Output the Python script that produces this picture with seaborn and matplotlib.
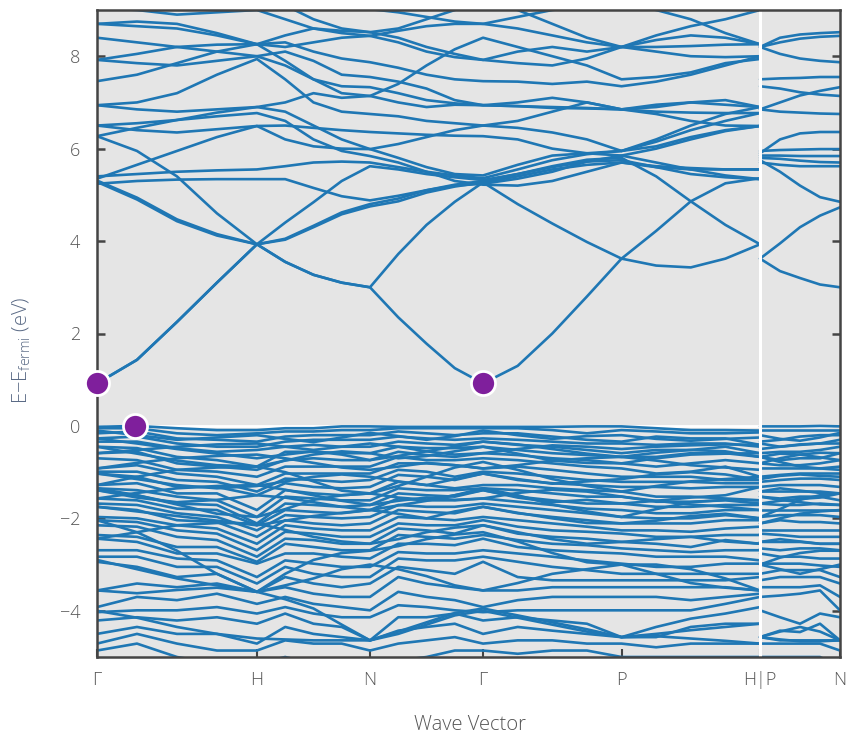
import numpy as np
import pandas as pd
import matplotlib
matplotlib.use("Agg")
import matplotlib.pyplot as plt
import seaborn as sns

# ---------------- data ----------------
# k-path distances (2pi/a) : G-H-N-G-P-H  and  P-N
k_main = [0.0, 0.25, 0.5, 0.75, 1.0,
          1.1768, 1.3536, 1.5303, 1.7071,
          1.8839, 2.0607, 2.2374, 2.4142,
          2.6307, 2.8472, 3.0637, 3.2802,
          3.4967, 3.7132, 3.9297, 4.1463]
k_pn = [4.1463, 4.2713, 4.3963, 4.5213, 4.6463]

tick_pos = [0.0, 1.0, 1.7071, 2.4142, 3.2802, 4.1463, 4.6463]
tick_labels = ["Γ", "H", "N", "Γ", "P", "H|P", "N"]

# conduction bands along G-H-N-G-P-H (eV)
cb_c1  = [0.92, 1.43, 2.25, 3.10, 3.93, 3.55, 3.27, 3.10, 3.00, 2.35, 1.78, 1.25, 0.92, 1.30, 2.00, 2.80, 3.62, 4.22, 4.86, 5.25, 5.36]
cb_c1b = [0.92, 1.43, 2.25, 3.10, 3.93, 3.55, 3.27, 3.10, 3.00, 3.72, 4.35, 4.85, 5.27, 5.40, 5.55, 5.65, 5.70, 5.62, 5.58, 5.55, 5.55]
cb_a   = [5.28, 4.90, 4.43, 4.12, 3.93, 4.03, 4.30, 4.58, 4.75, 4.86, 5.05, 5.18, 5.27, 4.80, 4.38, 3.98, 3.62, 3.47, 3.43, 3.62, 3.93]
cb_b   = [5.31, 4.94, 4.47, 4.15, 3.93, 4.05, 4.33, 4.62, 4.80, 4.92, 5.10, 5.22, 5.30, 5.45, 5.60, 5.72, 5.75, 5.60, 5.45, 5.38, 5.34]
cb_s   = [6.27, 5.95, 5.40, 4.60, 3.93, 4.40, 4.84, 5.30, 5.62, 5.55, 5.45, 5.38, 5.32, 5.45, 5.62, 5.76, 5.80, 5.40, 4.86, 4.35, 3.93]
cb_f2  = [5.24, 5.30, 5.33, 5.34, 5.34, 5.34, 5.15, 4.97, 4.88, 4.98, 5.10, 5.20, 5.24, 5.35, 5.50, 5.72, 5.85, 6.00, 6.20, 6.38, 6.49]
cb_f1  = [5.40, 5.45, 5.50, 5.53, 5.55, 5.62, 5.70, 5.72, 5.70, 5.60, 5.50, 5.42, 5.36, 5.55, 5.75, 5.88, 5.95, 6.15, 6.40, 6.60, 6.77]
cb_u1  = [6.27, 6.45, 6.62, 6.78, 6.90, 6.80, 6.50, 6.20, 5.99, 5.80, 5.60, 5.45, 5.42, 5.65, 5.85, 5.90, 5.95, 6.20, 6.50, 6.75, 6.90]
cb_u2  = [6.50, 6.55, 6.62, 6.70, 6.77, 6.60, 6.20, 5.95, 5.84, 5.70, 5.50, 5.30, 5.22, 5.20, 5.30, 5.50, 5.70, 5.60, 5.55, 5.55, 5.55]
cb_r   = [5.35, 5.65, 5.95, 6.25, 6.49, 6.50, 6.45, 6.40, 6.36, 6.33, 6.30, 6.28, 6.27, 6.20, 6.00, 5.90, 5.85, 5.70, 5.55, 5.42, 5.34]
cb_u3  = [6.94, 7.00, 7.20, 7.60, 7.94, 7.50, 7.00, 6.80, 6.75, 6.70, 6.60, 6.55, 6.50, 6.60, 6.80, 7.00, 6.85, 6.95, 7.00, 6.95, 6.90]
cb_u4  = [7.46, 7.60, 7.85, 8.10, 8.26, 7.90, 7.50, 7.20, 7.14, 7.40, 7.80, 8.15, 8.40, 8.20, 8.00, 7.80, 7.50, 7.55, 7.65, 7.85, 7.94]
cb_u5  = [7.92, 7.85, 7.80, 7.90, 8.00, 7.80, 7.50, 7.35, 7.33, 7.20, 7.05, 6.98, 6.94, 6.92, 6.90, 6.88, 6.85, 6.80, 6.78, 6.77, 6.77]
cb_u6  = [8.40, 8.30, 8.20, 8.10, 8.00, 8.10, 7.90, 7.60, 7.55, 7.45, 7.30, 7.05, 6.94, 6.92, 6.88, 6.87, 6.85, 6.75, 6.60, 6.50, 6.49]
cb_u7  = [8.70, 8.65, 8.60, 8.45, 8.26, 8.30, 8.10, 7.95, 7.87, 7.75, 7.60, 7.50, 7.46, 7.45, 7.40, 7.45, 7.35, 7.45, 7.60, 7.80, 8.00]
cb_u8  = [9.05, 9.00, 8.90, 8.95, 9.00, 8.80, 8.60, 8.50, 8.44, 8.30, 8.10, 7.98, 7.92, 8.10, 8.20, 8.10, 8.20, 8.45, 8.65, 8.80, 9.00]
cb_u9  = [9.30, 9.25, 9.20, 9.25, 9.30, 9.10, 8.80, 8.60, 8.52, 8.60, 8.80, 9.00, 9.20, 9.00, 8.70, 8.40, 8.20, 8.20, 8.22, 8.25, 8.26]
cb_u10 = [9.60, 9.50, 9.40, 9.45, 9.50, 9.40, 9.20, 9.10, 9.02, 8.95, 8.85, 8.75, 8.70, 8.85, 9.00, 9.10, 9.20, 9.00, 8.80, 8.50, 8.26]
cb_x1  = [6.94, 6.85, 6.80, 6.85, 6.90, 7.00, 7.20, 7.10, 7.14, 7.00, 6.90, 6.95, 6.94, 7.00, 7.10, 7.00, 6.85, 6.90, 7.00, 7.05, 6.90]
cb_x2  = [7.92, 8.05, 8.20, 8.25, 8.26, 8.45, 8.60, 8.55, 8.52, 8.40, 8.20, 8.05, 7.92, 7.85, 7.80, 7.95, 8.20, 8.10, 8.00, 7.98, 8.00]
cb_x3  = [8.70, 8.75, 8.70, 8.50, 8.26, 8.20, 8.30, 8.40, 8.44, 8.55, 8.65, 8.70, 8.70, 8.60, 8.45, 8.30, 8.20, 8.35, 8.45, 8.40, 8.26]
cb_x4  = [6.50, 6.40, 6.35, 6.42, 6.49, 6.20, 6.05, 6.00, 5.99, 6.10, 6.25, 6.40, 6.50, 6.45, 6.35, 6.20, 5.95, 6.05, 6.25, 6.40, 6.49]
cond_main = [cb_c1, cb_c1b, cb_a, cb_b, cb_s, cb_f2, cb_f1, cb_u1, cb_u2, cb_r,
             cb_u3, cb_u4, cb_u5, cb_u6, cb_u7, cb_u8, cb_u9, cb_u10,
             cb_x1, cb_x2, cb_x3, cb_x4]

# conduction bands along P-N
cond_pn = [
    [3.62, 3.35, 3.20, 3.06, 3.00],
    [3.62, 3.95, 4.30, 4.55, 4.73],
    [5.75, 5.50, 5.20, 4.95, 4.85],
    [5.70, 5.65, 5.62, 5.62, 5.62],
    [5.80, 5.78, 5.74, 5.71, 5.70],
    [5.85, 5.85, 5.84, 5.84, 5.84],
    [5.95, 5.97, 5.98, 5.99, 5.99],
    [5.90, 6.20, 6.33, 6.36, 6.36],
    [6.85, 6.80, 6.78, 6.76, 6.75],
    [6.85, 7.00, 7.15, 7.25, 7.33],
    [7.35, 7.30, 7.22, 7.17, 7.14],
    [7.50, 7.52, 7.53, 7.55, 7.55],
    [8.20, 8.05, 7.95, 7.90, 7.87],
    [8.20, 8.40, 8.47, 8.50, 8.52],
    [8.20, 8.30, 8.38, 8.42, 8.44],
    [9.20, 9.10, 9.05, 9.02, 9.02],
]

# valence bands: energies (sorted) at each k column of the main path
vb_G   = [-0.02, -0.05, -0.16, -0.27, -0.34, -0.45, -0.59, -0.70, -0.92, -0.99, -1.03, -1.28, -1.35, -1.39, -1.57, -1.68, -1.75, -1.97, -2.04, -2.15, -2.36, -2.44, -2.69, -2.83, -2.94, -3.56, -3.92, -4.03, -4.21, -4.50, -4.71, -4.86]
vb_k1  = [0.00, -0.05, -0.12, -0.23, -0.34, -0.48, -0.56, -0.74, -0.85, -0.99, -1.10, -1.24, -1.39, -1.50, -1.61, -1.71, -1.82, -2.00, -2.08, -2.18, -2.40, -2.51, -2.69, -2.83, -3.05, -3.41, -3.70, -3.99, -4.14, -4.35, -4.50, -4.71]
vb_k2  = [-0.05, -0.16, -0.27, -0.38, -0.48, -0.67, -0.81, -0.95, -1.03, -1.17, -1.32, -1.46, -1.53, -1.68, -1.79, -1.89, -2.04, -2.15, -2.26, -2.40, -2.62, -2.76, -2.87, -3.05, -3.27, -3.49, -3.77, -3.99, -4.21, -4.50, -4.71, -5.00]
vb_k3  = [-0.09, -0.20, -0.30, -0.45, -0.56, -0.74, -0.88, -0.99, -1.10, -1.21, -1.32, -1.46, -1.61, -1.71, -1.82, -1.97, -2.08, -2.22, -2.33, -2.47, -2.62, -2.76, -2.91, -3.05, -3.20, -3.41, -3.63, -3.92, -4.14, -4.50, -4.86, -5.15]
vb_H   = [-0.09, -0.16, -0.34, -0.45, -0.52, -0.88, -0.95, -1.10, -1.28, -1.42, -1.50, -1.82, -1.97, -2.11, -2.15, -2.26, -2.40, -2.55, -2.69, -2.83, -2.94, -2.98, -3.27, -3.41, -3.59, -3.59, -3.85, -4.06, -4.28, -4.71, -4.86, -5.15]
vb_k5  = [-0.05, -0.12, -0.23, -0.34, -0.45, -0.56, -0.74, -0.88, -1.03, -1.14, -1.24, -1.39, -1.53, -1.68, -1.82, -1.93, -2.04, -2.15, -2.29, -2.44, -2.55, -2.76, -2.91, -3.05, -3.27, -3.49, -3.70, -3.92, -4.06, -4.35, -4.64, -5.00]
vb_k6  = [-0.05, -0.12, -0.20, -0.30, -0.41, -0.56, -0.70, -0.88, -1.03, -1.17, -1.32, -1.46, -1.57, -1.71, -1.86, -1.97, -2.11, -2.22, -2.33, -2.47, -2.62, -2.76, -2.98, -3.20, -3.41, -3.63, -3.85, -4.06, -4.28, -4.50, -4.71, -5.15]
vb_k7  = [-0.01, -0.09, -0.20, -0.30, -0.45, -0.59, -0.74, -0.88, -1.03, -1.21, -1.35, -1.50, -1.61, -1.75, -1.89, -2.00, -2.15, -2.26, -2.40, -2.55, -2.69, -2.83, -3.05, -3.27, -3.49, -3.70, -3.92, -4.14, -4.35, -4.57, -4.71, -5.15]
vb_N   = [-0.01, -0.09, -0.20, -0.30, -0.45, -0.59, -0.74, -0.88, -1.03, -1.17, -1.32, -1.46, -1.61, -1.71, -1.82, -1.97, -2.11, -2.26, -2.40, -2.55, -2.69, -2.87, -3.05, -3.27, -3.41, -3.70, -3.99, -4.14, -4.64, -4.64, -4.86, -5.22]
vb_k9  = [-0.02, -0.05, -0.12, -0.23, -0.34, -0.45, -0.56, -0.67, -0.81, -0.95, -1.06, -1.21, -1.35, -1.46, -1.57, -1.71, -1.82, -1.97, -2.11, -2.22, -2.36, -2.55, -2.73, -2.87, -3.05, -3.27, -3.59, -3.88, -4.14, -4.43, -4.71, -5.08]
vb_k10 = [-0.02, -0.05, -0.16, -0.27, -0.38, -0.48, -0.63, -0.74, -0.81, -0.99, -1.10, -1.28, -1.39, -1.50, -1.61, -1.75, -1.86, -2.00, -2.15, -2.26, -2.40, -2.55, -2.76, -2.91, -3.12, -3.41, -3.70, -3.92, -4.14, -4.35, -4.64, -5.00]
vb_k11 = [-0.02, -0.05, -0.20, -0.30, -0.41, -0.48, -0.67, -0.74, -0.85, -1.10, -1.17, -1.35, -1.39, -1.53, -1.61, -1.75, -1.89, -2.04, -2.15, -2.33, -2.44, -2.58, -2.76, -2.91, -3.20, -3.49, -3.77, -3.99, -4.06, -4.28, -4.57, -4.86]
vb_k13 = [-0.02, -0.05, -0.16, -0.30, -0.41, -0.52, -0.63, -0.74, -0.88, -1.03, -1.17, -1.28, -1.39, -1.53, -1.64, -1.75, -1.89, -2.04, -2.18, -2.33, -2.47, -2.62, -2.76, -2.94, -3.27, -3.56, -3.77, -3.99, -4.14, -4.35, -4.64, -4.93]
vb_k14 = [-0.02, -0.09, -0.23, -0.34, -0.45, -0.59, -0.70, -0.81, -0.95, -1.10, -1.24, -1.35, -1.46, -1.61, -1.71, -1.82, -1.97, -2.11, -2.26, -2.40, -2.55, -2.69, -2.83, -3.05, -3.34, -3.49, -3.70, -3.99, -4.21, -4.43, -4.64, -4.86]
vb_k15 = [-0.01, -0.16, -0.30, -0.38, -0.52, -0.63, -0.74, -0.88, -1.03, -1.17, -1.28, -1.39, -1.53, -1.68, -1.79, -1.89, -2.04, -2.18, -2.29, -2.44, -2.58, -2.73, -2.91, -3.12, -3.34, -3.49, -3.70, -3.99, -4.28, -4.50, -4.71, -4.86]
vb_P   = [-0.01, -0.09, -0.34, -0.38, -0.59, -0.67, -0.81, -0.92, -1.10, -1.21, -1.32, -1.42, -1.53, -1.68, -1.82, -1.97, -2.11, -2.26, -2.33, -2.51, -2.65, -2.76, -2.98, -3.20, -3.34, -3.49, -3.70, -3.99, -4.57, -4.57, -4.71, -5.00]
vb_k17 = [-0.05, -0.12, -0.23, -0.41, -0.52, -0.67, -0.88, -1.03, -1.10, -1.21, -1.32, -1.53, -1.64, -1.75, -1.89, -2.00, -2.11, -2.26, -2.40, -2.55, -2.69, -2.83, -3.05, -3.20, -3.34, -3.49, -3.70, -3.99, -4.35, -4.57, -4.79, -5.00]
vb_k18 = [-0.09, -0.16, -0.27, -0.38, -0.52, -0.59, -0.81, -0.99, -1.10, -1.21, -1.35, -1.53, -1.64, -1.75, -1.89, -2.00, -2.11, -2.29, -2.40, -2.62, -2.73, -2.83, -3.05, -3.20, -3.34, -3.49, -3.77, -3.99, -4.17, -4.35, -4.71, -5.00]
vb_k19 = [-0.09, -0.16, -0.27, -0.38, -0.45, -0.59, -0.74, -0.88, -1.17, -1.24, -1.32, -1.57, -1.61, -1.71, -1.82, -1.93, -2.04, -2.22, -2.36, -2.47, -2.69, -2.83, -2.98, -3.20, -3.34, -3.49, -3.70, -3.85, -4.06, -4.28, -4.71, -5.00]
vb_H2  = [-0.10, -0.14, -0.41, -0.45, -0.59, -0.67, -0.81, -1.10, -1.17, -1.24, -1.32, -1.61, -1.68, -1.71, -1.82, -2.00, -2.04, -2.18, -2.36, -2.55, -2.69, -2.91, -2.98, -3.20, -3.27, -3.56, -3.63, -3.70, -3.92, -4.28, -4.71, -5.00]
val_main_cols = [vb_G, vb_k1, vb_k2, vb_k3, vb_H, vb_k5, vb_k6, vb_k7, vb_N,
                 vb_k9, vb_k10, vb_k11, vb_G, vb_k13, vb_k14, vb_k15, vb_P,
                 vb_k17, vb_k18, vb_k19, vb_H2]

# valence bands along P-N
vb_pn1 = [-0.01, -0.09, -0.30, -0.45, -0.56, -0.74, -0.85, -0.92, -1.06, -1.17, -1.28, -1.42, -1.57, -1.71, -1.82, -1.93, -2.04, -2.26, -2.36, -2.51, -2.69, -2.83, -2.98, -3.12, -3.27, -3.49, -3.67, -4.14, -4.43, -4.64, -4.71, -5.00]
vb_pn2 = [-0.01, -0.09, -0.23, -0.41, -0.56, -0.70, -0.85, -0.92, -1.03, -1.14, -1.28, -1.42, -1.53, -1.71, -1.82, -1.93, -2.08, -2.26, -2.40, -2.51, -2.65, -2.83, -2.98, -3.12, -3.27, -3.49, -3.63, -4.28, -4.46, -4.64, -4.71, -5.00]
vb_pn3 = [0.00, -0.09, -0.20, -0.38, -0.52, -0.70, -0.81, -0.92, -1.03, -1.14, -1.28, -1.42, -1.53, -1.68, -1.82, -1.93, -2.08, -2.26, -2.40, -2.55, -2.65, -2.87, -3.02, -3.12, -3.27, -3.45, -3.56, -4.06, -4.28, -4.64, -4.71, -5.00]
val_pn_cols = [vb_P, vb_pn1, vb_pn2, vb_pn3, vb_N]

# strongly dispersive valence bands that cut across the dense manifold
vd1 = [-4.00, -4.15, -4.35, -4.50, -4.60, -4.62, -4.64, -4.64, -4.64, -4.50, -4.30, -4.10, -4.00, -4.15, -4.30, -4.45, -4.57, -4.50, -4.42, -4.35, -4.28]
vd2 = [-2.90, -3.10, -3.30, -3.45, -3.59, -3.75, -3.95, -4.30, -4.64, -4.45, -4.25, -4.05, -3.95, -4.10, -4.25, -4.40, -4.57, -4.55, -4.60, -4.65, -4.71]
vd3 = [-3.56, -3.62, -3.55, -3.50, -3.59, -3.45, -3.30, -3.10, -3.00, -3.10, -3.25, -3.45, -3.56, -3.40, -3.20, -3.10, -3.00, -3.20, -3.40, -3.50, -3.56]
vd4 = [-2.04, -2.30, -2.70, -3.20, -3.59, -3.20, -2.90, -2.75, -2.70, -2.60, -2.45, -2.35, -2.30, -2.50, -2.75, -2.95, -3.00, -3.00, -3.10, -3.30, -3.56]
vd5 = [-1.28, -1.10, -0.95, -0.90, -0.88, -1.00, -1.20, -1.40, -1.46, -1.30, -1.10, -0.90, -0.78, -0.95, -1.15, -1.30, -1.42, -1.30, -1.20, -1.15, -1.10]
vd6 = [-1.35, -1.50, -1.70, -1.90, -1.97, -1.80, -1.60, -1.50, -1.46, -1.55, -1.60, -1.50, -1.35, -1.50, -1.70, -1.85, -1.97, -1.80, -1.65, -1.60, -1.61]
vd7 = [-0.45, -0.60, -0.75, -0.85, -0.88, -0.75, -0.62, -0.55, -0.59, -0.70, -0.65, -0.55, -0.45, -0.60, -0.75, -0.80, -0.81, -0.70, -0.62, -0.60, -0.59]
vd8 = [-2.44, -2.30, -2.15, -2.10, -2.11, -2.25, -2.40, -2.50, -2.55, -2.45, -2.30, -2.20, -2.15, -2.30, -2.45, -2.55, -2.51, -2.45, -2.40, -2.50, -2.55]
vf1 = [-0.10, -0.20, -0.30, -0.25, -0.20, -0.28, -0.35, -0.25, -0.15, -0.22, -0.30, -0.22, -0.10, -0.20, -0.28, -0.22, -0.20, -0.28, -0.32, -0.28, -0.25]
vf2 = [-0.59, -0.52, -0.45, -0.40, -0.38, -0.45, -0.52, -0.45, -0.38, -0.45, -0.55, -0.62, -0.59, -0.50, -0.42, -0.45, -0.50, -0.45, -0.42, -0.40, -0.41]
vf3 = [-0.92, -0.80, -0.70, -0.65, -0.62, -0.70, -0.80, -0.90, -0.95, -0.88, -0.80, -0.85, -0.92, -0.85, -0.75, -0.70, -0.67, -0.75, -0.85, -0.90, -0.95]
vf4 = [-1.03, -1.15, -1.28, -1.35, -1.30, -1.20, -1.10, -1.05, -1.10, -1.20, -1.28, -1.15, -1.03, -1.15, -1.25, -1.20, -1.15, -1.05, -1.00, -1.05, -1.17]
vf5 = [-1.57, -1.45, -1.35, -1.30, -1.28, -1.38, -1.50, -1.62, -1.71, -1.62, -1.55, -1.60, -1.57, -1.45, -1.38, -1.42, -1.53, -1.62, -1.70, -1.75, -1.82]
vf6 = [-1.75, -1.85, -1.95, -2.05, -2.15, -2.05, -1.95, -1.88, -1.82, -1.90, -2.00, -1.85, -1.75, -1.88, -2.00, -2.10, -2.11, -2.05, -1.95, -1.90, -2.00]
vf7 = [-0.27, -0.38, -0.50, -0.60, -0.70, -0.62, -0.55, -0.62, -0.74, -0.65, -0.55, -0.45, -0.34, -0.40, -0.50, -0.60, -0.67, -0.58, -0.52, -0.55, -0.67]
vf8 = [-1.39, -1.55, -1.65, -1.60, -1.50, -1.55, -1.65, -1.75, -1.82, -1.72, -1.62, -1.50, -1.39, -1.55, -1.65, -1.60, -1.68, -1.62, -1.55, -1.50, -1.32]
val_disp_main = [vd1, vd2, vd3, vd4, vd5, vd6, vd7, vd8,
                 vf1, vf2, vf3, vf4, vf5, vf6, vf7, vf8]
val_disp_pn = [
    [-4.57, -4.45, -4.35, -4.45, -4.64],
    [-4.57, -4.62, -4.66, -4.66, -4.64],
    [-3.00, -3.10, -3.20, -3.10, -3.00],
    [-3.00, -2.85, -2.75, -2.70, -2.70],
    [-1.42, -1.35, -1.40, -1.45, -1.46],
    [-1.97, -1.80, -1.60, -1.50, -1.46],
    [-0.81, -0.70, -0.62, -0.58, -0.59],
    [-2.51, -2.45, -2.50, -2.55, -2.55],
    [-0.20, -0.28, -0.32, -0.25, -0.15],
    [-0.50, -0.45, -0.40, -0.38, -0.38],
    [-0.67, -0.78, -0.88, -0.92, -0.95],
    [-1.15, -1.08, -1.05, -1.08, -1.10],
    [-1.53, -1.60, -1.65, -1.70, -1.71],
    [-2.11, -2.00, -1.90, -1.85, -1.82],
    [-0.67, -0.60, -0.62, -0.68, -0.74],
    [-1.68, -1.62, -1.58, -1.55, -1.46],
]

# band extrema
cbm_k = [0.0, 2.4142]
cbm_e = [0.92, 0.92]
vbm_k = [0.2375]
vbm_e = [0.0]

# ---------------- build long table ----------------
rows = []
def add(bands, ks, tag):
    for i, band in enumerate(bands):
        for k, e in zip(ks, band):
            rows.append((k, e, f"{tag}{i}"))

add(cond_main, k_main, "cm")
add(cond_pn, k_pn, "cp")
add(np.array(val_main_cols).T, k_main, "vm")
add(np.array(val_pn_cols).T, k_pn, "vp")
add(val_disp_main, k_main, "dm")
add(val_disp_pn, k_pn, "dp")
df = pd.DataFrame(rows, columns=["k", "E", "band"])
ext = pd.DataFrame({"k": cbm_k + vbm_k, "E": cbm_e + vbm_e})

# ---------------- plot ----------------
sns.set_theme(style="white")
plt.rcParams["font.family"] = ["Open Sans", "DejaVu Sans"]
plt.rcParams["mathtext.fontset"] = "custom"
plt.rcParams["mathtext.rm"] = "Open Sans"

W, H = 848, 739
fig = plt.figure(figsize=(W / 100, H / 100), dpi=100)
ax = fig.add_axes([97 / W, (H - 657) / H, 743 / W, 647 / H])
ax.set_facecolor("#e5e5e5")

ax.axhline(0, color="white", lw=2, zorder=1)

sns.lineplot(data=df, x="k", y="E", units="band", estimator=None, sort=False,
             color="#1f77b4", lw=1.9, ax=ax, zorder=2, legend=False)

ax.axvline(4.1463, color="white", lw=2.2, zorder=3)

sns.scatterplot(data=ext, x="k", y="E", s=300, color="#7f1f9c",
                edgecolor="white", linewidth=2, ax=ax, zorder=6,
                legend=False, clip_on=False)

ax.set_xlim(0, 4.6463)
ax.set_ylim(-5, 9)
ax.set_xticks(tick_pos)
ax.set_xticklabels(tick_labels)
ax.set_yticks([-4, -2, 0, 2, 4, 6, 8])
ax.set_xlabel("")
ax.set_ylabel("")

for sp in ax.spines.values():
    sp.set_color("#444444")
    sp.set_linewidth(1.8)
    sp.set_zorder(5)

ax.tick_params(axis="y", direction="in", length=6, width=1.8, color="#444444",
               left=True, right=True, labelsize=13, labelcolor="#555555", pad=12)
ax.tick_params(axis="x", direction="in", length=6, width=1.5, color="#444444",
               bottom=True, top=False, labelsize=13, labelcolor="#555555", pad=10)
for lab in ax.get_xticklabels() + ax.get_yticklabels():
    lab.set_fontweight("light")

fig.text(22 / W, 1 - 350 / H, "E\u2212E$_\\mathregular{fermi}$ (eV)", rotation=90,
         ha="center", va="center", fontsize=14.5, color="#5a6a85", fontweight="light")
fig.text(470 / W, 1 - 725 / H, "Wave Vector", ha="center", va="center",
         fontsize=14.5, color="#555555", fontweight="light")

fig.savefig("out.png", dpi=100, facecolor="white")
